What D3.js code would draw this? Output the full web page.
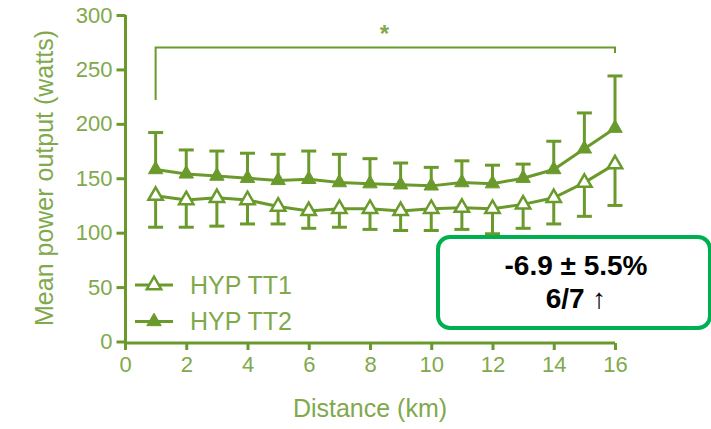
<!DOCTYPE html>
<html>
<head>
<meta charset="utf-8">
<script src="https://cdn.jsdelivr.net/npm/d3@7"></script>
<style>
  body { margin: 0; background: #fff; }
  text { font-family: "Liberation Sans", Arial, sans-serif; }
</style>
</head>
<body>
<svg class="chart" width="711" height="429"></svg>
<script>
// distance (km) and mean power (watts) for both time trials
var distance = [1, 2, 3, 4, 5, 6, 7, 8, 9, 10, 11, 12, 13, 14, 15, 16];
var tt1Mean = [134, 130, 132, 130, 124, 120, 122, 122, 120, 122, 123, 122, 126, 132, 146, 163];
var tt1Sd   = [29, 25, 26, 22, 16, 16, 17, 19, 18, 20, 20, 23, 22, 24, 31, 38];
var tt2Mean = [158, 154, 152, 150, 148, 149, 146, 145, 144, 143, 146, 145, 150, 158, 177, 196];
var tt2Sd   = [34, 22, 23, 23, 24, 26, 26, 23, 20, 17, 20, 17, 13, 26, 33, 48];
var xTicks = [0, 2, 4, 6, 8, 10, 12, 14, 16];
var yTicks = [0, 50, 100, 150, 200, 250, 300];
var seriesNames = ["HYP TT1", "HYP TT2"];

var lineColor = "#6b9a2c", textColor = "#80a94c";

var svg = d3.select(".chart");

var x = d3.scaleLinear().domain([0, 16]).range([125, 615]);
var y = d3.scaleLinear().domain([0, 300]).range([341.5, 15]);

// axes
var yAxis = svg.append("g")
  .attr("transform", "translate(125.5,0)")
  .call(d3.axisLeft(y).tickValues(yTicks).tickSize(9).tickPadding(4));
var xAxis = svg.append("g")
  .attr("transform", "translate(0,343)")
  .call(d3.axisBottom(x).tickValues(xTicks).tickSize(7).tickPadding(6));

[xAxis, yAxis].forEach(function(a) {
  a.select(".domain").attr("stroke", lineColor).attr("stroke-width", 3);
  a.selectAll(".tick line").attr("stroke", lineColor).attr("stroke-width", 3);
  a.selectAll(".tick text").attr("fill", textColor)
    .style("font-size", "22px").style("font-family", "Liberation Sans, Arial, sans-serif");
});
// remove outer tick stubs from the domain path
yAxis.select(".domain").attr("d", "M0," + y(300) + "V344");
xAxis.select(".domain").attr("d", "M" + x(0) + ",0H" + x(16));

// axis titles
svg.append("text")
  .attr("transform", "translate(53," + 178 + ") rotate(-90)")
  .attr("text-anchor", "middle")
  .attr("fill", textColor)
  .style("font-size", "25px")
  .text("Mean power output (watts)");

svg.append("text")
  .attr("x", 370).attr("y", 417)
  .attr("text-anchor", "middle")
  .attr("fill", textColor)
  .style("font-size", "25px")
  .text("Distance (km)");

// significance bracket
var bracketY = 47.5;
svg.append("path")
  .attr("d", "M" + x(1) + "," + y(222) + "V" + bracketY + "H" + x(16) + "V53")
  .attr("fill", "none").attr("stroke", lineColor).attr("stroke-width", 2);
svg.append("text")
  .attr("x", (x(1) + x(16)) / 2 - 1).attr("y", 42)
  .attr("text-anchor", "middle")
  .attr("fill", textColor)
  .style("font-size", "24px").style("font-weight", "bold")
  .text("*");

var tt1 = distance.map(function(d, i) { return {d: d, m: tt1Mean[i], sd: tt1Sd[i]}; });
var tt2 = distance.map(function(d, i) { return {d: d, m: tt2Mean[i], sd: tt2Sd[i]}; });

var line = d3.line().x(function(p) { return x(p.d); }).y(function(p) { return y(p.m); });

// error bars: TT1 downward, TT2 upward
function errorBars(data, dir) {
  var g = svg.append("g").attr("stroke", lineColor).attr("stroke-width", 3);
  g.selectAll("line.v").data(data).enter().append("line")
    .attr("x1", function(p) { return x(p.d); })
    .attr("x2", function(p) { return x(p.d); })
    .attr("y1", function(p) { return y(p.m); })
    .attr("y2", function(p) { return y(p.m + dir * p.sd); });
  g.selectAll("line.c").data(data).enter().append("line")
    .attr("x1", function(p) { return x(p.d) - 7.5; })
    .attr("x2", function(p) { return x(p.d) + 7.5; })
    .attr("y1", function(p) { return y(p.m + dir * p.sd); })
    .attr("y2", function(p) { return y(p.m + dir * p.sd); });
}
errorBars(tt1, -1);
errorBars(tt2, 1);

[tt1, tt2].forEach(function(data) {
  svg.append("path").datum(data)
    .attr("d", line)
    .attr("fill", "none").attr("stroke", lineColor).attr("stroke-width", 3);
});

var tri = d3.symbol().type(d3.symbolTriangle).size(90);
function markers(data, filled) {
  svg.append("g").selectAll("path").data(data).enter().append("path")
    .attr("d", tri)
    .attr("transform", function(p) { return "translate(" + x(p.d) + "," + y(p.m) + ")"; })
    .attr("fill", filled ? lineColor : "#fff")
    .attr("stroke", lineColor)
    .attr("stroke-width", filled ? 1 : 2.5);
}
markers(tt1, false);
markers(tt2, true);

// legend
var legendRows = [285, 321.5];
seriesNames.forEach(function(name, i) {
  var g = svg.append("g").attr("transform", "translate(0," + legendRows[i] + ")");
  g.append("line").attr("x1", 135).attr("x2", 173)
    .attr("stroke", lineColor).attr("stroke-width", 3);
  g.append("path").attr("d", tri)
    .attr("transform", "translate(154,0)")
    .attr("fill", i === 0 ? "#fff" : lineColor)
    .attr("stroke", lineColor)
    .attr("stroke-width", i === 0 ? 2.5 : 1);
  g.append("text").attr("x", 190).attr("y", 8.5)
    .attr("fill", textColor)
    .style("font-size", "25px")
    .text(name);
});

// annotation box
svg.append("rect")
  .attr("x", 438).attr("y", 237).attr("width", 272).attr("height", 91)
  .attr("rx", 12)
  .attr("fill", "#fff").attr("stroke", "#00b050").attr("stroke-width", 4);
svg.append("text")
  .attr("x", 576).attr("y", 275)
  .attr("text-anchor", "middle")
  .attr("fill", "#000")
  .style("font-size", "28px").style("font-weight", "bold")
  .text("-6.9 ± 5.5%");
var t2 = svg.append("text")
  .attr("x", 576).attr("y", 308)
  .attr("text-anchor", "middle")
  .attr("fill", "#000")
  .style("font-size", "28px").style("font-weight", "bold");
t2.append("tspan").text("6/7 ");
t2.append("tspan").style("font-weight", "normal").text("↑");
</script>
</body>
</html>
